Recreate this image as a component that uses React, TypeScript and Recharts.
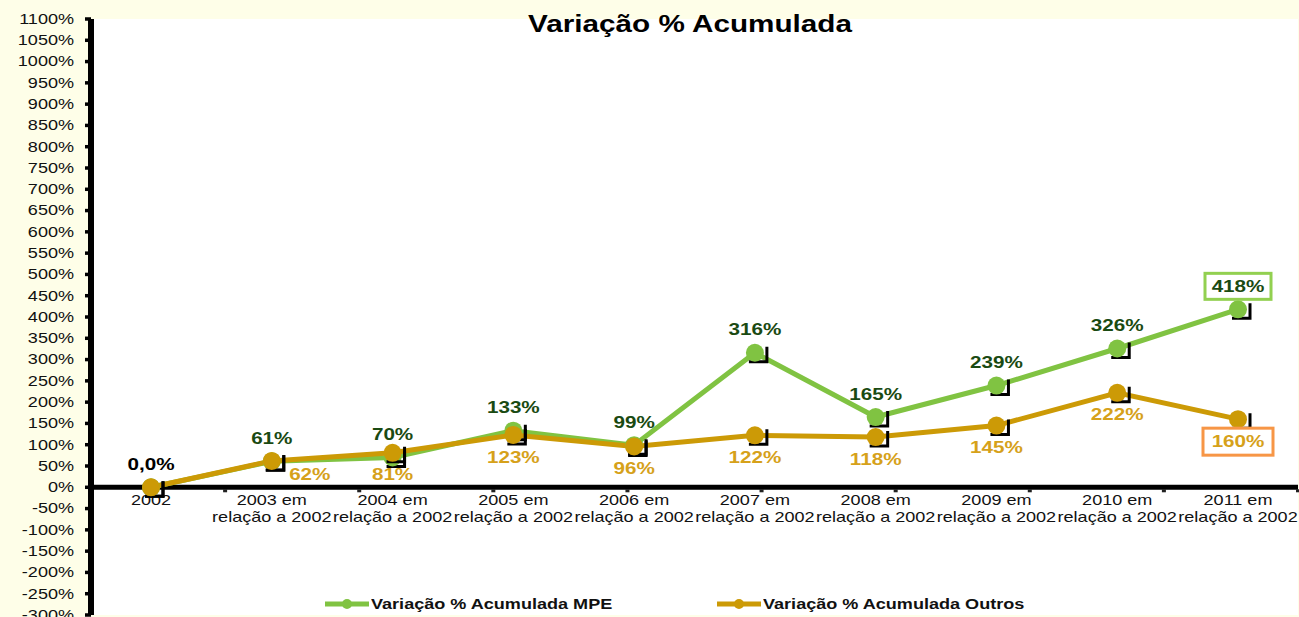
import * as React from "react";
import {
  CartesianGrid,
  Legend,
  Line,
  LineChart,
  ReferenceDot,
  ReferenceLine,
  XAxis,
  YAxis,
} from "recharts";

const categories = [
  "2002",
  "2003 em relação a 2002",
  "2004 em relação a 2002",
  "2005 em relação a 2002",
  "2006 em relação a 2002",
  "2007 em relação a 2002",
  "2008 em relação a 2002",
  "2009 em relação a 2002",
  "2010 em relação a 2002",
  "2011 em relação a 2002",
];
const mpeValues = [0, 61, 70, 133, 99, 316, 165, 239, 326, 418];
const outrosValues = [0, 62, 81, 123, 96, 122, 118, 145, 222, 160];
const yTicks = [
  -300, -250, -200, -150, -100, -50, 0, 50, 100, 150, 200, 250, 300, 350, 400, 450, 500, 550,
  600, 650, 700, 750, 800, 850, 900, 950, 1000, 1050, 1100,
];
const boundaryTicks = [1, 2, 3, 4, 5, 6, 7, 8, 9];

const SERIES_MPE = "Variação % Acumulada MPE";
const SERIES_OUTROS = "Variação % Acumulada Outros";

const GREEN = "#80C342";
const GOLD = "#CC9A06";
const GOLD_TEXT = "#D6A11A";
const DARK_GREEN = "#1A4A12";
const CREAM = "#FEFEE8";
const FONT = "'Liberation Sans', Arial, sans-serif";
const STRETCH = 1.29;

const data = categories.map((name, i) => ({
  name,
  mpe: mpeValues[i],
  outros: outrosValues[i],
}));

function fmtPct(v: number): string {
  return v === 0 ? "0,0%" : `${v}%`;
}

function Wide({
  x,
  y,
  size,
  bold,
  fill,
  anchor = "middle",
  children,
}: {
  x: number;
  y: number;
  size: number;
  bold?: boolean;
  fill: string;
  anchor?: "start" | "middle" | "end";
  children: React.ReactNode;
}) {
  return (
    <text
      transform={`translate(${x},${y}) scale(${STRETCH},1)`}
      textAnchor={anchor}
      dy="0.35em"
      fontFamily={FONT}
      fontSize={size}
      fontWeight={bold ? 700 : 400}
      fill={fill}
    >
      {children}
    </text>
  );
}

function YTick({ x, y, payload }: any) {
  return (
    <Wide x={x} y={y} size={14} fill="#111" anchor="end">
      {`${payload.value}%`}
    </Wide>
  );
}

function makeDot(color: string) {
  return (props: any) => {
    const { cx, cy, index } = props;
    if (cx == null || cy == null) return <g key={`d-${index}`} />;
    return (
      <g key={`d-${color}-${index}`}>
        <path
          d={`M ${cx + 12} ${cy - 6} V ${cy + 9} H ${cx - 6}`}
          stroke="#000"
          strokeWidth={3}
          fill="none"
        />
        <circle cx={cx} cy={cy} r={9} fill={color} />
      </g>
    );
  };
}

function MpeLabel(props: any) {
  const { x, y, value, index } = props;
  const ty = y - 23;
  const color = index === 0 ? "#000" : DARK_GREEN;
  return (
    <g key={`ml-${index}`}>
      {index === categories.length - 1 && (
        <rect x={x - 33} y={ty - 13} width={66} height={26} fill="#fff" stroke="#92D050" strokeWidth={3} />
      )}
      <Wide x={x} y={ty} size={16} bold fill={color}>
        {fmtPct(value)}
      </Wide>
    </g>
  );
}

function OutrosLabel(props: any) {
  const { x, y, value, index } = props;
  if (index === 0) return <g key={`ol-${index}`} />;
  const dx = index === 1 ? 38 : 0;
  const ty = index === 1 ? y + 14 : y + 22;
  return (
    <g key={`ol-${index}`}>
      {index === categories.length - 1 && (
        <rect x={x - 35} y={ty - 13} width={70} height={27} fill="#fff" stroke="#F79646" strokeWidth={3} />
      )}
      <Wide x={x + dx} y={ty} size={16} bold fill={GOLD_TEXT}>
        {fmtPct(value)}
      </Wide>
    </g>
  );
}

function CategoryLabel(props: any) {
  const { cx, cy, name } = props;
  const m = /^(\d{4} em) (.*)$/.exec(name);
  return (
    <g>
      <Wide x={cx} y={cy + 13} size={14} fill="#111">
        {m ? m[1] : name}
      </Wide>
      {m && (
        <Wide x={cx} y={cy + 30} size={14} fill="#111">
          {m[2]}
        </Wide>
      )}
    </g>
  );
}

function LegendBox() {
  const item = (left: number, color: string, label: string) => (
    <div style={{ position: "absolute", left, top: 0, height: 20, display: "flex", alignItems: "center" }}>
      <svg width={44} height={20} style={{ display: "block" }}>
        <line x1={0} y1={10} x2={44} y2={10} stroke={color} strokeWidth={5} />
        <circle cx={22} cy={10} r={5} fill={color} />
      </svg>
      <span
        style={{
          display: "inline-block",
          marginLeft: 2,
          fontFamily: FONT,
          fontSize: 14,
          fontWeight: 700,
          color: "#111",
          whiteSpace: "nowrap",
          transform: `scaleX(${STRETCH})`,
          transformOrigin: "left center",
        }}
      >
        {label}
      </span>
    </div>
  );
  return (
    <div style={{ position: "relative", width: 1299, height: 20 }}>
      {item(325, GREEN, SERIES_MPE)}
      {item(717, GOLD, SERIES_OUTROS)}
    </div>
  );
}

export default function App() {
  return (
    <div
      style={{
        position: "absolute",
        left: 0,
        top: 0,
        width: 1299,
        height: 617,
        background: CREAM,
        overflow: "hidden",
      }}
    >
      <LineChart width={1299} height={617} data={data} margin={{ top: 19, right: 1, bottom: 2, left: 0 }}>
        <CartesianGrid fill="#fff" stroke="none" horizontal={false} vertical={false} />
        <XAxis dataKey="name" hide padding={{ left: 60, right: 60 }} />
        <XAxis xAxisId="b" type="number" domain={[0, 10]} hide />
        <YAxis
          domain={[-300, 1100]}
          ticks={yTicks}
          interval={0}
          width={91}
          axisLine={{ stroke: "#000", strokeWidth: 6 }}
          tickLine={{ stroke: "#000", strokeWidth: 3.5 }}
          tickSize={6}
          tickMargin={11}
          tick={<YTick />}
          allowDataOverflow
        />
        <ReferenceLine y={0} stroke="#000" strokeWidth={5} />
        {boundaryTicks.map((b) => (
          <ReferenceDot
            key={`b-${b}`}
            xAxisId="b"
            x={b}
            y={0}
            r={2}
            shape={(p: any) => <rect x={p.cx - 2} y={p.cy + 2} width={4} height={3} fill="#222" />}
          />
        ))}
        {categories.map((c) => (
          <ReferenceDot
            key={`c-${c}`}
            x={c}
            y={0}
            r={1}
            shape={(p: any) => <CategoryLabel {...p} name={c} />}
          />
        ))}
        <Legend
          layout="horizontal"
          verticalAlign="middle"
          align="center"
          wrapperStyle={{ position: "absolute", left: 0, top: 594, width: 1299 }}
          content={() => <LegendBox />}
        />
        <Line
          type="linear"
          dataKey="mpe"
          name={SERIES_MPE}
          stroke={GREEN}
          strokeWidth={5}
          dot={makeDot(GREEN)}
          activeDot={false}
          label={MpeLabel}
          isAnimationActive={false}
        />
        <Line
          type="linear"
          dataKey="outros"
          name={SERIES_OUTROS}
          stroke={GOLD}
          strokeWidth={5}
          dot={makeDot(GOLD)}
          activeDot={false}
          label={OutrosLabel}
          isAnimationActive={false}
        />
      </LineChart>
      <div
        style={{
          position: "absolute",
          left: 690,
          top: 13,
          fontFamily: FONT,
          fontSize: 23,
          fontWeight: 700,
          lineHeight: "23px",
          color: "#000",
          whiteSpace: "nowrap",
          transform: `translateX(-50%) scaleX(${STRETCH})`,
          transformOrigin: "center",
        }}
      >
        Variação % Acumulada
      </div>
    </div>
  );
}
